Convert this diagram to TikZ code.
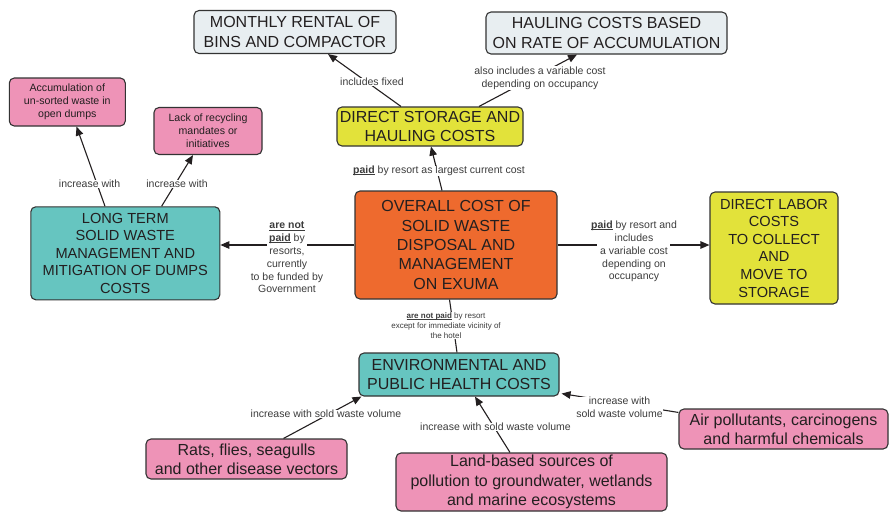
\documentclass[tikz,border=0pt]{standalone}
\usepackage{fontspec}
\setmainfont{Liberation Sans}
\usetikzlibrary{arrows.meta}
\definecolor{ink}{HTML}{231F20}
\definecolor{boxline}{HTML}{333333}
\definecolor{lbltext}{HTML}{3C3C3C}
\definecolor{pinkfill}{HTML}{EE93B7}
\definecolor{tealfill}{HTML}{66C5C0}
\definecolor{orangefill}{HTML}{EE6A2E}
\definecolor{yellowfill}{HTML}{E2E23A}
\definecolor{grayfill}{HTML}{E8EEF1}
% bold text with a thin underline set close to the baseline
\newsavebox{\ulbox}
\newcommand{\ul}[1]{\sbox{\ulbox}{\textbf{#1}}\rlap{\rule[-0.14em]{\wd\ulbox}{0.07em}}\usebox{\ulbox}}
\begin{document}
\begin{tikzpicture}[x=1pt,y=-1pt,
  box/.style={draw=boxline, line width=1.1pt, rounded corners=5pt, inner sep=0pt, align=center, text=ink},
  big/.style={font=\fontsize{16}{19.3}\selectfont},
  mid/.style={font=\fontsize{14.6}{17.6}\selectfont},
  small/.style={font=\fontsize{10.6}{13.2}\selectfont},
  lbl/.style={font=\fontsize{10.5}{12.8}\selectfont, text=lbltext, align=center, inner sep=0.6pt},
  lblfill/.style={lbl, fill=white},
  conn/.style={draw=ink, line width=1.1pt},
  arr/.style={conn, -{Triangle[length=9pt,width=7.5pt]}},
]
\useasboundingbox (0,0) rectangle (889,512);

% concept boxes
\node[box, big, fill=grayfill, minimum width=202pt, minimum height=43pt] (monthly) at (295,32) {MONTHLY RENTAL OF\\BINS AND COMPACTOR};
\node[box, big, fill=grayfill, minimum width=241pt, minimum height=42pt] (hauling) at (606.5,33) {HAULING COSTS BASED\\ON RATE OF ACCUMULATION};
\node[box, small, fill=pinkfill, minimum width=116pt, minimum height=48pt] (accum) at (67.3,102) {Accumulation of\\un-sorted waste in\\open dumps};
\node[box, small, fill=pinkfill, minimum width=108pt, minimum height=47pt] (lack) at (208,131) {Lack of recycling\\mandates or\\initiatives};
\node[box, big, fill=yellowfill, minimum width=186pt, minimum height=39pt] (storage) at (430,126.5) {DIRECT STORAGE AND\\HAULING COSTS};
\node[box, mid, fill=tealfill, minimum width=189pt, minimum height=93pt] (longterm) at (125.3,253.3) {LONG TERM\\SOLID WASTE\\MANAGEMENT AND\\MITIGATION OF DUMPS\\COSTS};
\node[box, big, fill=orangefill, minimum width=202pt, minimum height=108pt] (overall) at (456,245) {OVERALL COST OF\\SOLID WASTE\\DISPOSAL AND\\MANAGEMENT\\ON EXUMA};
\node[box, mid, fill=yellowfill, minimum width=128pt, minimum height=112pt] (labor) at (774,248) {DIRECT LABOR\\COSTS\\TO COLLECT\\AND\\MOVE TO\\STORAGE};
\node[box, big, fill=tealfill, minimum width=200pt, minimum height=43pt] (env) at (459,374.5) {ENVIRONMENTAL AND\\PUBLIC HEALTH COSTS};
\node[box, big, fill=pinkfill, minimum width=201pt, minimum height=40pt] (rats) at (246.5,459) {Rats, flies, seagulls\\and other disease vectors};
\node[box, big, fill=pinkfill, minimum width=271pt, minimum height=58pt] (land) at (531.5,482) {Land-based sources of\\pollution to groundwater, wetlands\\and marine ecosystems};
\node[box, big, fill=pinkfill, minimum width=209pt, minimum height=40pt] (air) at (783.5,429) {Air pollutants, carcinogens\\and harmful chemicals};

% labels on the two horizontal links (the line is broken around them)
\node[lbl] (lblNotPaid) at (287,257.5) {\ul{are not}\\\ul{paid} by\\resorts,\\currently\\to be funded by\\Government};
\node[lbl] (lblPaidR) at (634,251.5) {\ul{paid} by resort and\\includes\\a variable cost\\depending on\\occupancy};

% connectors
\draw[arr] ([xshift=-29pt]storage.north) -- ([xshift=33pt]monthly.south);
\draw[arr] ([xshift=49pt]storage.north) -- ([xshift=-29.5pt]hauling.south);
\draw[arr] ([xshift=-14pt]overall.north) -- ([xshift=1pt]storage.south);
\draw[arr] ([xshift=-20.3pt]longterm.north) -- ([xshift=9.2pt]accum.south);
\draw[arr] ([xshift=36.3pt]longterm.north) -- ([xshift=-15pt]lack.south);
\draw[conn] (overall.west) -- ([xshift=20pt]overall.west -| lblNotPaid.center);
\draw[arr] ([xshift=-20pt]overall.west -| lblNotPaid.center) -- (overall.west -| longterm.east);
\draw[conn] (overall.east) -- ([xshift=-37pt]overall.east -| lblPaidR.center);
\draw[arr] ([xshift=36pt]overall.east -| lblPaidR.center) -- (overall.east -| labor.west);
\draw[conn] ([xshift=-6.5pt]overall.south) -- ([xshift=-2pt]env.north);
\draw[arr] ([xshift=37pt]rats.north) -- ([xshift=3pt]env.south west);
\draw[arr] ([xshift=-21.5pt]land.north) -- ([xshift=16pt]env.south);
\draw[arr] ([yshift=-4pt]air.north west) -- ([xshift=2pt,yshift=3pt]env.south east);

% link labels
\node[lblfill] (lblFixed) at (372,82) {includes fixed};
\node[lblfill, font=\fontsize{10.5}{13.3}\selectfont] (lblVar) at (540,78) {also includes a variable cost\\depending on occupancy};
\node[lblfill] (lblPaid) at (439,171) {\ul{paid} by resort as largest current cost};
\node[lblfill] (lblInc1) at (89.6,184) {increase with};
\node[lblfill] (lblInc2) at (177,184) {increase with};
\node[lblfill, font=\fontsize{8}{9.7}\selectfont] (lblVicinity) at (446,325.5) {\ul{are not paid} by resort\\except for immediate vicinity of\\the hotel};
\node[lblfill] (lblVol1) at (326,414) {increase with sold waste volume};
\node[lblfill] (lblVol2) at (495.5,427) {increase with sold waste volume};
\node[lblfill, font=\fontsize{10.5}{13}\selectfont] (lblVol3) at (619.5,407.5) {increase with\\sold waste volume};
\end{tikzpicture}
\end{document}
